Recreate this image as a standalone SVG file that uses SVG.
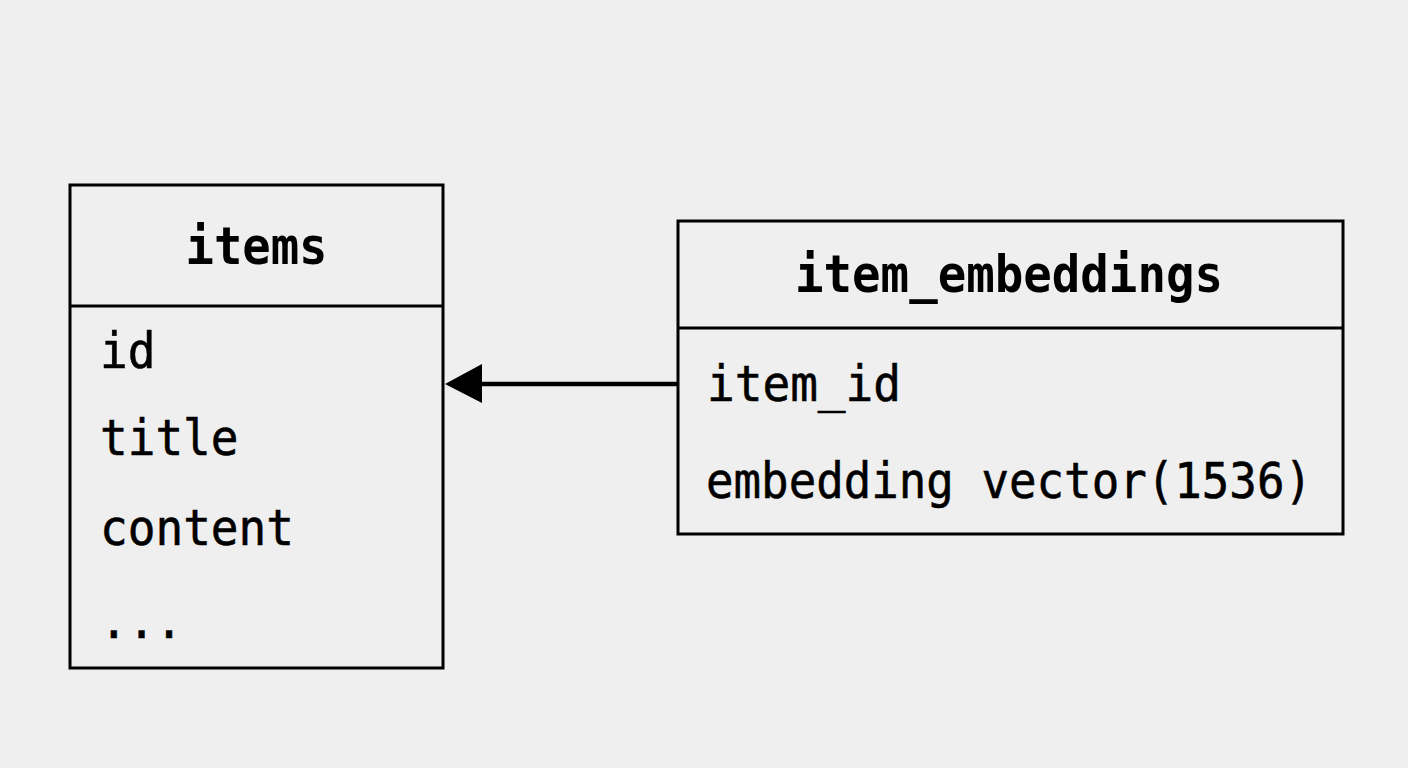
<svg xmlns="http://www.w3.org/2000/svg" width="1408" height="768" viewBox="0 0 1408 768">
<style>
.bg{fill:#efefef}
.box{fill:#efefef;stroke:#000;stroke-width:3}
.div{stroke:#000;stroke-width:3}
.hdr{font-family:"DejaVu Sans Mono","Liberation Mono",monospace;font-weight:bold;font-size:52px;fill:#000;text-anchor:middle}
.fld{font-family:"DejaVu Sans Mono","Liberation Mono",monospace;font-size:50px;fill:#000;stroke:#000;stroke-width:0.6}
.conn{stroke:#000;stroke-width:4.5;fill:none}
</style>
<rect class="bg" x="0" y="0" width="1408" height="768"/>
<g id="items">
<rect class="box" x="70" y="185" width="373" height="483"/>
<line class="div" x1="70" y1="306" x2="443" y2="306"/>
<text class="hdr" x="256.5" y="264" textLength="142" lengthAdjust="spacingAndGlyphs">items</text>
<text class="fld" x="100" y="368" textLength="55.5" lengthAdjust="spacingAndGlyphs">id</text>
<text class="fld" x="100" y="455" textLength="138.5" lengthAdjust="spacingAndGlyphs">title</text>
<text class="fld" x="100" y="545" textLength="194" lengthAdjust="spacingAndGlyphs">content</text>
<text class="fld" x="100" y="638" textLength="83" lengthAdjust="spacingAndGlyphs">...</text>
</g>
<g id="item_embeddings">
<rect class="box" x="678" y="221" width="665" height="313"/>
<line class="div" x1="678" y1="328" x2="1343" y2="328"/>
<text class="hdr" x="1009" y="292" textLength="428" lengthAdjust="spacingAndGlyphs">item_embeddings</text>
<text class="fld" x="707" y="401" textLength="194" lengthAdjust="spacingAndGlyphs">item_id</text>
<text class="fld" x="706" y="498" textLength="606" lengthAdjust="spacingAndGlyphs">embedding vector(1536)</text>
</g>
<g id="connectors">
<line class="conn" x1="678" y1="384" x2="478" y2="384"/>
<polygon points="445,384 482,364 482,403" fill="#000"/>
</g>
</svg>
